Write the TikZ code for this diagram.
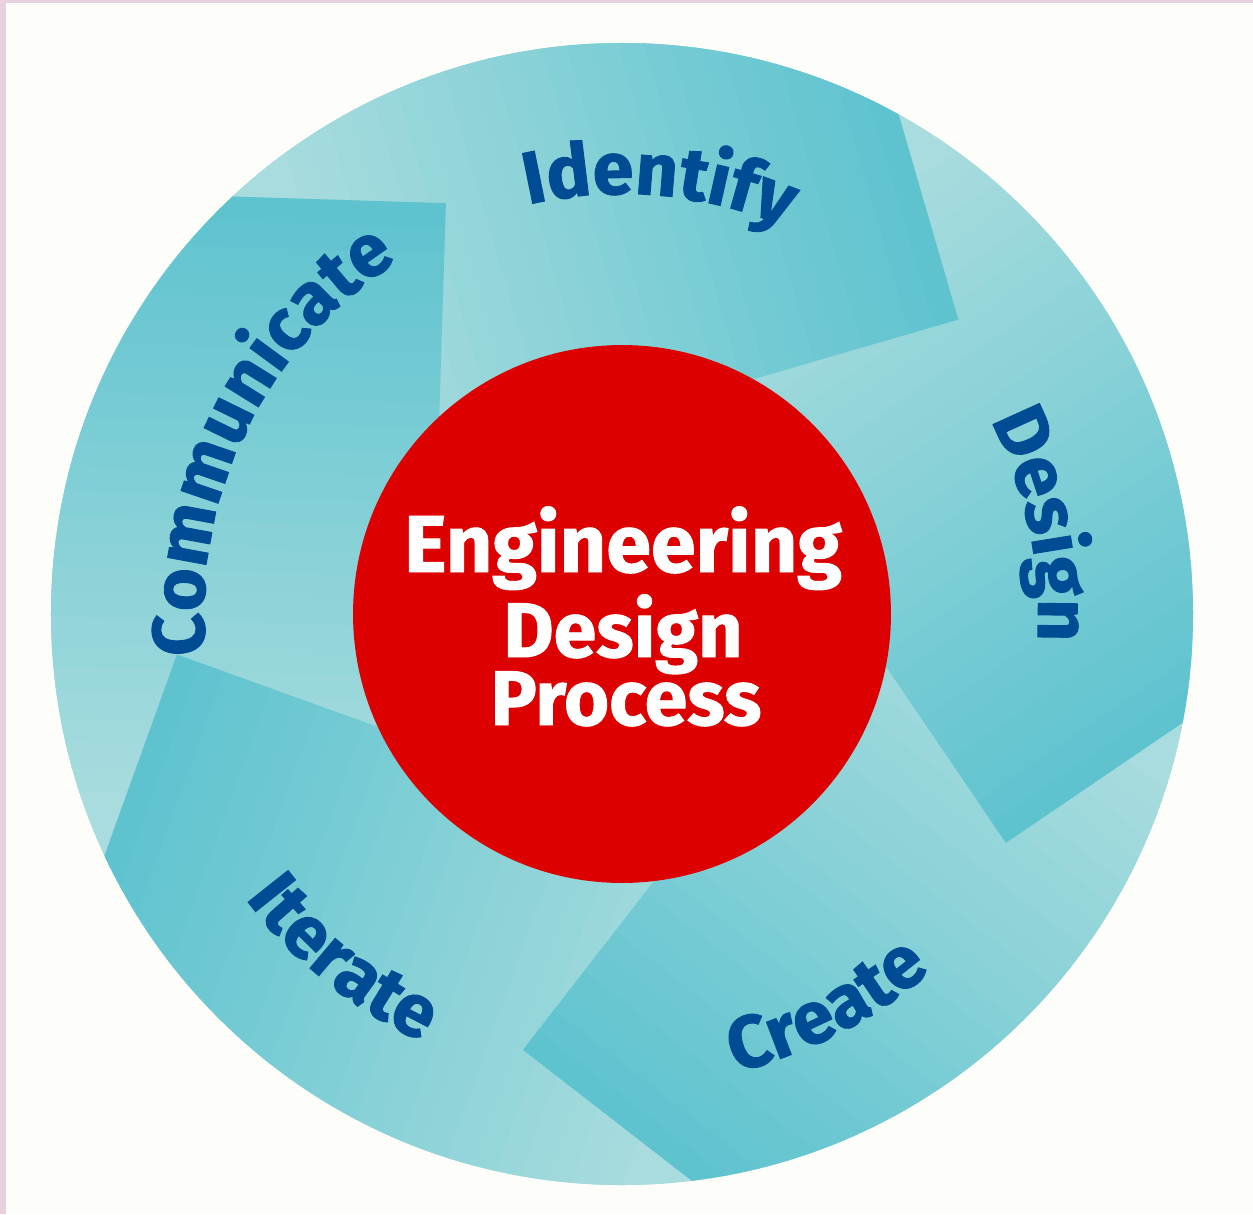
\documentclass[tikz,border=0pt]{standalone}
\usepackage{fontspec}
\setmainfont{Fira Sans}[BoldFeatures={FakeBold=1.2}]
\usetikzlibrary{decorations.text}

\definecolor{paper}{RGB}{253,254,249}
\definecolor{edgepink}{RGB}{233,208,222}
\definecolor{tealdark}{RGB}{94,195,207}
\definecolor{teallight}{RGB}{168,220,222}
\definecolor{labelblue}{RGB}{0,76,148}
\definecolor{hubred}{RGB}{220,0,0}

\newcommand{\labelfont}{\bfseries\upshape\fontsize{42}{42}\selectfont\color{labelblue}}

% one blade of the wheel, turned by #1
\newcommand{\blade}[1]{%
  \begin{scope}[rotate=#1]
    \foreach \i [evaluate=\i as \p using int(100-\i*25/6)] in {0,...,23}
      \fill[tealdark!\p!teallight] (-1500,{405.1-25*\i}) rectangle (-188.9,{405.1-25*\i-26});
    \fill[teallight] (-1500,-194) rectangle (-188.9,-1500);
  \end{scope}}

\tikzset{
  hub/.style={circle, fill=hubred, minimum size=10.76cm, inner sep=0pt},
  hubtext/.style={text=white, anchor=base, inner sep=0pt},
  label arc/.style={decorate, decoration={text along path, text align=center, text={|\labelfont|#1}}},
}

\begin{document}
\begin{tikzpicture}[x=0.02cm, y=0.02cm]
  \useasboundingbox (-622,-600) rectangle (631,614);
  \fill[paper] (-622,-600) rectangle (631,614);
  \fill[edgepink] (-622,-600) rectangle (-616,614);
  \fill[edgepink] (-622,611) rectangle (631,614);
  % the wheel
  \begin{scope}
    \clip (0,0) circle[radius=571];
    \fill[teallight] (0,0) circle[radius=571];
    \blade{-289.8}
    \blade{-217.8}
    \blade{-145.8}
    \blade{-73.8}
    \blade{-1.8}
    \begin{scope}
      \clip (-600,-600) rectangle (-150,600);
      \blade{-289.8}
    \end{scope}
  \end{scope}
  % the five steps
  \path[label arc=Identify] (125:420) arc[start angle=125, end angle=45, radius=420];
  \path[label arc=Design] (57:416) arc[start angle=57, end angle=-33, radius=416];
  \path[label arc=Create] (-107.6:472) arc[start angle=-107.6, end angle=-17.6, radius=472];
  \path[label arc=Iterate] (186:472) arc[start angle=186, end angle=276, radius=472];
  \path[label arc=Communicate] (214:418) arc[start angle=214, end angle=94, radius=418];
  % the hub
  \node[hub] (hub) at (0,0) {};
  \node[hubtext, font=\bfseries\fontsize{46}{46}\selectfont] (eng) at (1,42) {Engineering};
  \node[hubtext, font=\bfseries\fontsize{44}{44}\selectfont] (des) at (1,-43) {Design};
  \node[hubtext, font=\bfseries\fontsize{44}{44}\selectfont] (pro) at (4,-111) {Process};
\end{tikzpicture}
\end{document}
